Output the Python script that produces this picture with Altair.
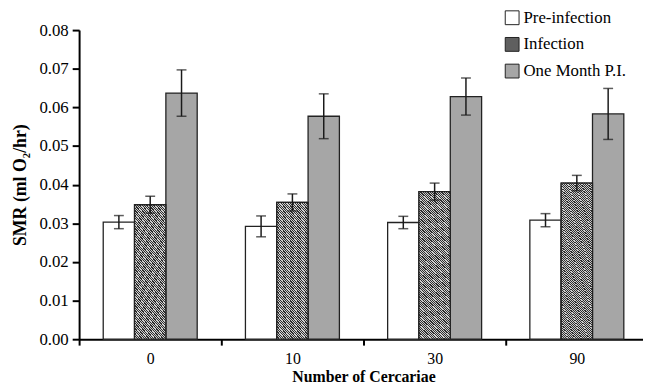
import altair as alt
import pandas as pd

groups = ["0", "10", "30", "90"]
series = ["Pre-infection", "Infection", "One Month P.I."]

pre_mean = [0.0303, 0.0292, 0.0302, 0.0308]
pre_se = [0.0017, 0.0027, 0.0016, 0.0017]
inf_mean = [0.0348, 0.0354, 0.0382, 0.0404]
inf_se = [0.0022, 0.0022, 0.0022, 0.0020]
pi_mean = [0.0637, 0.0577, 0.0628, 0.0583]
pi_se = [0.0060, 0.0058, 0.0048, 0.0066]

rows = []
for s, m, e in zip(series, [pre_mean, inf_mean, pi_mean], [pre_se, inf_se, pi_se]):
    for g, mv, ev in zip(groups, m, e):
        rows.append({"group": g, "series": s, "mean": mv, "lo": mv - ev, "hi": mv + ev})
df = pd.DataFrame(rows)

# hatch texture built as a striped linear gradient (45 degree stripes)
w, h = 31.7, 145.0
k = (w + h) / (w * w + h * h)
N = 100
stops = []
for i in range(N):
    a = i / N
    b = (i + 0.5) / N
    c = (i + 1) / N
    stops += [
        {"offset": a, "color": "#2e2e2e"},
        {"offset": b, "color": "#2e2e2e"},
        {"offset": b, "color": "#cfcfcf"},
        {"offset": c, "color": "#cfcfcf"},
    ]
hatch = {"gradient": "linear", "x1": 0, "y1": 1, "x2": k * w, "y2": 1 - k * h, "stops": stops}

font = "Liberation Serif"

x_axis = alt.Axis(
    title="Number of Cercariae",
    labelAngle=0,
    tickBand="extent",
    labelPadding=6,
    labelFontSize=16,
    titlePadding=2,
    titleFontSize=16,
    tickSize=6,
)
y_axis = alt.Axis(
    title="SMR (ml O₂/hr)",
    values=[0, 0.01, 0.02, 0.03, 0.04, 0.05, 0.06, 0.07, 0.08],
    format=".2f",
    grid=False,
    labelOverlap=False,
    tickSize=7,
    labelPadding=4,
    titlePadding=10,
)

x_scale = alt.Scale(range=[0, 576], paddingInner=0, paddingOuter=0)
xo_scale = alt.Scale(domain=series, paddingOuter=0.77, paddingInner=0)
y_scale = alt.Scale(domain=[0, 0.08], nice=False)


def xs():
    return alt.X("group:N", sort=groups, scale=x_scale, axis=x_axis)


def xos():
    return alt.XOffset("series:N", sort=series, scale=xo_scale)


base = alt.Chart(df)

bars = base.mark_bar(stroke="#222222", strokeWidth=1.3).encode(
    x=xs(),
    xOffset=xos(),
    y=alt.Y("mean:Q", scale=y_scale, axis=y_axis),
    fill=alt.Fill(
        "series:N",
        sort=series,
        scale=alt.Scale(domain=series, range=["#ffffff", "#5f5f5f", "#a6a6a6"]),
        legend=alt.Legend(
            title=None,
            orient="none",
            legendX=430,
            legendY=-21,
            symbolType="square",
            symbolSize=196,
            symbolStrokeColor="#222222",
            symbolStrokeWidth=1,
            labelOffset=3,
            rowPadding=8,
            padding=0,
        ),
    ),
)

hatched = base.transform_filter(alt.datum.series == "Infection").mark_bar(
    stroke="#222222", strokeWidth=1.3, fill=hatch
).encode(x=xs(), xOffset=xos(), y=alt.Y("mean:Q", scale=y_scale, axis=y_axis))

err = base.mark_rule(color="#1a1a1a", strokeWidth=1.5).encode(
    x=xs(),
    xOffset=xos(),
    y=alt.Y("lo:Q", scale=y_scale, axis=y_axis),
    y2="hi:Q",
)
cap_lo = base.mark_tick(color="#1a1a1a", thickness=1.5, size=10, orient="horizontal").encode(
    x=xs(), xOffset=xos(), y=alt.Y("lo:Q", scale=y_scale, axis=y_axis)
)
cap_hi = base.mark_tick(color="#1a1a1a", thickness=1.5, size=10, orient="horizontal").encode(
    x=xs(), xOffset=xos(), y=alt.Y("hi:Q", scale=y_scale, axis=y_axis)
)

chart = (
    alt.layer(bars, hatched, err, cap_lo, cap_hi)
    .properties(
        width=571,
        height=313,
        autosize=alt.AutoSizeParams(type="none"),
        padding={"left": 72, "top": 20, "right": 0, "bottom": 43},
        background="white",
    )
    .configure(font=font)
    .configure_view(stroke=None)
    .configure_axis(
        domainColor="black",
        domainWidth=2,
        tickColor="black",
        tickWidth=2,
        labelFont=font,
        labelFontSize=17,
        labelColor="black",
        titleFont=font,
        titleFontSize=18,
        titleFontWeight="bold",
        titleColor="black",
    )
    .configure_legend(labelFont=font, labelFontSize=17, labelColor="black")
)

chart.save("out.html", embed_options={"renderer": "svg", "actions": False})
